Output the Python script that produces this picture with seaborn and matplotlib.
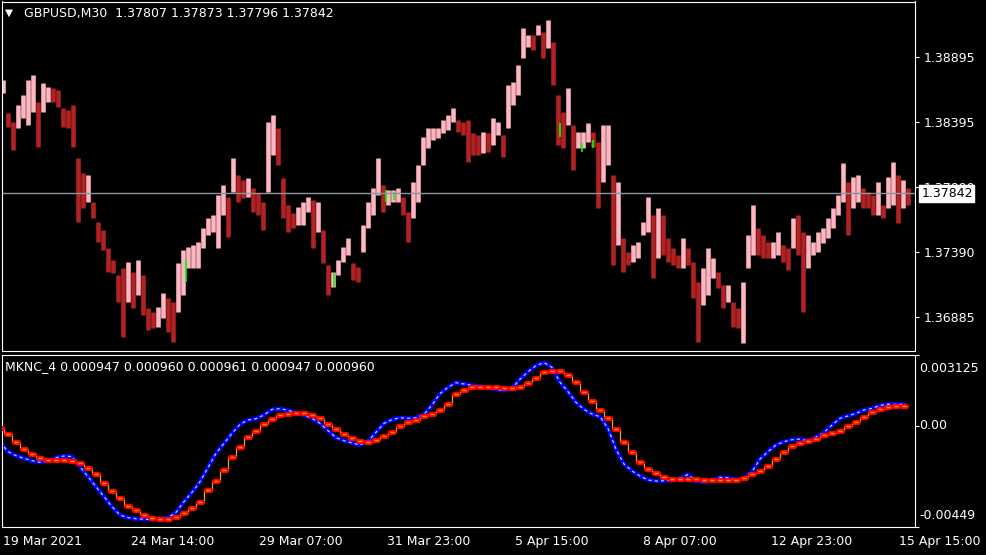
import numpy as np
import pandas as pd
import matplotlib
matplotlib.use("Agg")
import matplotlib.pyplot as plt
import seaborn as sns

# GBPUSD M30 bars, high/low envelope read every 5 bars
bar_step = 5
bar_high = [
    1.38716, 1.38459, 1.38394, 1.38523, 1.38600, 1.38716, 1.38754, 1.38548, 1.38690, 1.38664,
    1.38652, 1.38639, 1.38498, 1.38484, 1.38523, 1.38112, 1.37996, 1.37983, 1.37777, 1.37623,
    1.37559, 1.37418, 1.37328, 1.37212, 1.37264, 1.37315, 1.37238, 1.37328, 1.37212, 1.36956,
    1.36929, 1.36968, 1.37071, 1.37033, 1.37006, 1.37303, 1.37405, 1.37430, 1.37444, 1.37469,
    1.37572, 1.37649, 1.37675, 1.37829, 1.37906, 1.37816, 1.38112, 1.37983, 1.37945, 1.37958,
    1.37881, 1.37842, 1.37777, 1.38394, 1.38446, 1.38343, 1.37958, 1.37752, 1.37688, 1.37739,
    1.37777, 1.37816, 1.37791, 1.37777, 1.37559, 1.37289, 1.37238, 1.37328, 1.37430, 1.37495,
    1.37303, 1.37276, 1.37598, 1.37777, 1.37881, 1.38112, 1.37906, 1.37868, 1.37868, 1.37881,
    1.37816, 1.37700, 1.37932, 1.38060, 1.38279, 1.38343, 1.38343, 1.38343, 1.38407, 1.38446,
    1.38498, 1.38407, 1.38394, 1.38407, 1.38305, 1.38292, 1.38317, 1.38305, 1.38420, 1.38394,
    1.38292, 1.38677, 1.38703, 1.38831, 1.39114, 1.39063, 1.39063, 1.39140, 1.39088, 1.39178,
    1.39011, 1.38600, 1.38471, 1.38652, 1.38369, 1.38317, 1.38317, 1.38382, 1.38317, 1.38240,
    1.38369, 1.38369, 1.37983, 1.37932, 1.37495, 1.37392, 1.37444, 1.37469, 1.37623, 1.37816,
    1.37675, 1.37727, 1.37675, 1.37495, 1.37418, 1.37366, 1.37495, 1.37418, 1.37315, 1.37161,
    1.37264, 1.37418, 1.37341, 1.37238, 1.37135, 1.37135, 1.37006, 1.36956, 1.37161, 1.37521,
    1.37752, 1.37572, 1.37521, 1.37469, 1.37469, 1.37546, 1.37444, 1.37418, 1.37649, 1.37675,
    1.37546, 1.37521, 1.37469, 1.37546, 1.37572, 1.37649, 1.37727, 1.37829, 1.38074, 1.37932,
    1.37970, 1.37983, 1.37881, 1.37855, 1.37829, 1.37932, 1.37752, 1.37970, 1.38086, 1.37983,
    1.37945, 1.37881,
]
bar_low = [
    1.38613, 1.38356, 1.38176, 1.38343, 1.38420, 1.38369, 1.38471, 1.38202, 1.38471, 1.38548,
    1.38548, 1.38510, 1.38356, 1.38343, 1.38202, 1.37623, 1.37727, 1.37777, 1.37649, 1.37469,
    1.37405, 1.37238, 1.37225, 1.37006, 1.36737, 1.37006, 1.36956, 1.37058, 1.36904, 1.36788,
    1.36801, 1.36814, 1.36878, 1.36775, 1.36698, 1.36929, 1.37058, 1.37264, 1.37264, 1.37264,
    1.37418, 1.37521, 1.37546, 1.37418, 1.37675, 1.37508, 1.37855, 1.37777, 1.37804, 1.37816,
    1.37700, 1.37675, 1.37559, 1.37855, 1.38137, 1.38060, 1.37649, 1.37546, 1.37572, 1.37598,
    1.37598, 1.37700, 1.37418, 1.37546, 1.37303, 1.37058, 1.37122, 1.37212, 1.37315, 1.37366,
    1.37174, 1.37161, 1.37392, 1.37572, 1.37675, 1.37829, 1.37700, 1.37752, 1.37777, 1.37777,
    1.37675, 1.37469, 1.37649, 1.37777, 1.38060, 1.38189, 1.38253, 1.38266, 1.38305, 1.38330,
    1.38394, 1.38317, 1.38292, 1.38086, 1.38137, 1.38137, 1.38151, 1.38163, 1.38215, 1.38292,
    1.38124, 1.38343, 1.38523, 1.38600, 1.38883, 1.38972, 1.38947, 1.39063, 1.38883, 1.38960,
    1.38677, 1.38215, 1.38189, 1.38369, 1.38022, 1.38189, 1.38189, 1.38240, 1.38202, 1.37727,
    1.37932, 1.38060, 1.37289, 1.37444, 1.37238, 1.37289, 1.37315, 1.37341, 1.37521, 1.37546,
    1.37187, 1.37341, 1.37366, 1.37315, 1.37289, 1.37264, 1.37264, 1.37289, 1.37033, 1.36698,
    1.36981, 1.37058, 1.37187, 1.37110, 1.36956, 1.37006, 1.36814, 1.36801, 1.36686, 1.37264,
    1.37366, 1.37366, 1.37341, 1.37341, 1.37341, 1.37366, 1.37315, 1.37251, 1.37418, 1.37366,
    1.36929, 1.37264, 1.37366, 1.37392, 1.37457, 1.37495, 1.37572, 1.37675, 1.37777, 1.37521,
    1.37727, 1.37777, 1.37727, 1.37727, 1.37675, 1.37675, 1.37649, 1.37727, 1.37752, 1.37611,
    1.37727, 1.37752,
]

# the few bars painted green
green_bar = [183, 331, 383, 391, 557, 579, 590]
green_high = [1.37328, 1.37225, 1.37868, 1.37855, 1.38382, 1.38228, 1.38253]
green_low = [1.37161, 1.37122, 1.37777, 1.37791, 1.38279, 1.38163, 1.38189]

last_ohlc = [1.37807, 1.37873, 1.37796, 1.37842]
price_ticks = [1.38895, 1.38395, 1.37890, 1.37390, 1.36885]

# MKNC_4 indicator, one value every 8 bars
ind_step = 8
mknc_fast = [
    -0.000742, -0.001155, -0.001333, -0.001451, -0.001554, -0.001628, -0.001569, -0.001421, -0.001347, -0.001377,
    -0.001820, -0.002262, -0.002705, -0.003148, -0.003591, -0.003960, -0.004078, -0.004122, -0.004152, -0.004152,
    -0.004122, -0.004078, -0.003842, -0.003369, -0.002956, -0.002484, -0.001864, -0.001229, -0.000786, -0.000344,
    0.000055, 0.000247, 0.000306, 0.000468, 0.000719, 0.000749, 0.000675, 0.000572, 0.000453, 0.000321,
    0.000099, -0.000226, -0.000535, -0.000668, -0.000772, -0.000860, -0.000683, -0.000299, 0.000099, 0.000262,
    0.000350, 0.000321, 0.000350, 0.000498, 0.000911, 0.001413, 0.001693, 0.001900, 0.001841, 0.001782,
    0.001738, 0.001664, 0.001605, 0.001546, 0.001649, 0.002048, 0.002387, 0.002653, 0.002786, 0.002579,
    0.001915, 0.001501, 0.001029, 0.000719, 0.000512, 0.000394, -0.000122, -0.001052, -0.001702, -0.002011,
    -0.002233, -0.002410, -0.002454, -0.002440, -0.002410, -0.002336, -0.002159, -0.002454, -0.002513, -0.002425,
    -0.002292, -0.002307, -0.002395, -0.002336, -0.002041, -0.001481, -0.001155, -0.000860, -0.000713, -0.000624,
    -0.000595, -0.000683, -0.000506, -0.000299, 0.000025, 0.000321, 0.000424, 0.000542, 0.000690, 0.000763,
    0.000896, 0.000941, 0.000941, 0.000941,
]
mknc_slow = [
    -0.000093, -0.000388, -0.000742, -0.001052, -0.001244, -0.001421, -0.001510, -0.001525, -0.001525, -0.001554,
    -0.001643, -0.001864, -0.002159, -0.002528, -0.002882, -0.003222, -0.003547, -0.003738, -0.003960, -0.004107,
    -0.004152, -0.004122, -0.004048, -0.003886, -0.003665, -0.003399, -0.002853, -0.002454, -0.001967, -0.001377,
    -0.000934, -0.000506, -0.000226, 0.000055, 0.000276, 0.000453, 0.000527, 0.000557, 0.000557, 0.000468,
    0.000321, 0.000070, -0.000152, -0.000358, -0.000535, -0.000698, -0.000727, -0.000654, -0.000462, -0.000270,
    -0.000034, 0.000173, 0.000247, 0.000409, 0.000498, 0.000675, 0.000941, 0.001383, 0.001575, 0.001708,
    0.001723, 0.001723, 0.001693, 0.001649, 0.001649, 0.001723, 0.001885, 0.002092, 0.002357, 0.002417,
    0.002402, 0.002239, 0.001944, 0.001472, 0.001073, 0.000690, 0.000321, -0.000152, -0.000713, -0.001155,
    -0.001598, -0.001923, -0.002115, -0.002292, -0.002351, -0.002366, -0.002366, -0.002380, -0.002410, -0.002425,
    -0.002425, -0.002425, -0.002395, -0.002307, -0.002159, -0.002011, -0.001790, -0.001481, -0.001185, -0.000919,
    -0.000786, -0.000683, -0.000595, -0.000432, -0.000344, -0.000240, -0.000019, 0.000173, 0.000394, 0.000586,
    0.000749, 0.000808, 0.000852, 0.000881,
]
mknc_header = [0.000947, 0.000960, 0.000961, 0.000947, 0.000960]
ind_ticks = [0.003125, 0.0, -0.00449]

time_ticks = [0, 128, 256, 384, 512, 640, 768, 896]
time_labels = ['19 Mar 2021', '24 Mar 14:00', '29 Mar 07:00', '31 Mar 23:00',
               '5 Apr 15:00', '8 Apr 07:00', '12 Apr 23:00', '15 Apr 15:00']

sns.set_theme(style="dark", rc={
    "figure.facecolor": "black", "axes.facecolor": "black",
    "axes.edgecolor": "white", "axes.linewidth": 0.8,
    "text.color": "white", "xtick.color": "white", "ytick.color": "white",
    "axes.grid": False,
})
plt.rcParams["font.family"] = ["DejaVu Sans"]
plt.rcParams["font.size"] = 9

W, H = 987, 555
fig = plt.figure(figsize=(W / 100, H / 100), dpi=100)
ax1 = fig.add_axes([2 / W, 1 - 351 / H, 913 / W, 349.5 / H])
ax2 = fig.add_axes([2 / W, 1 - 527 / H, 913 / W, 172 / H])

# ---- price panel
bars = pd.DataFrame({'bar': np.arange(len(bar_high)) * bar_step,
                     'high': bar_high, 'low': bar_low})
mid = (bars['high'] + bars['low']) / 2
up = mid.diff().fillna(0) >= 0
bar_colors = np.where(up, '#FFB6C1', '#B22222')
ax1.vlines(bars['bar'], bars['low'], bars['high'], colors=bar_colors, lw=3.3)
ax1.vlines(green_bar, green_low, green_high, colors='#00FF00', lw=1.2)
ax1.axhline(last_ohlc[3], color='#8C96A0', lw=1)

ax1.set_xlim(-1, 912)
ax1.set_ylim(1.36626, 1.39321)
ax1.set_xticks([])
ax1.yaxis.tick_right()
ax1.set_yticks(price_ticks)
ax1.set_yticklabels([f'{v:.5f}' for v in price_ticks])
ax1.tick_params(axis='y', colors='white', length=3, width=0.8, pad=3, labelsize=9)
ax1.set_xlabel('')
ax1.set_ylabel('')
for s in ax1.spines.values():
    s.set_color('white')

# last price marker on the scale (covers the tick label behind it, as in MT4)
ax1.annotate(f'{last_ohlc[3]:.5f}', xy=(1, last_ohlc[3]),
             xycoords=('axes fraction', 'data'), xytext=(4.5, 0),
             textcoords='offset points', ha='left', va='center',
             color='black', fontsize=9, annotation_clip=False, zorder=10,
             bbox=dict(boxstyle='square,pad=0.14', fc='white', ec='white'))

fig.text(4.5 / W, 1 - 12.5 / H, '\u25BC', fontsize=7.5, color='white',
         ha='left', va='center')
fig.text(24 / W, 1 - 13.5 / H,
         'GBPUSD,M30  ' + ' '.join(f'{v:.5f}' for v in last_ohlc),
         fontsize=9, color='white', ha='left', va='center')

# ---- indicator panel
ind = pd.DataFrame({'bar': np.arange(len(mknc_fast)) * ind_step - 3,
                    'fast': mknc_fast, 'slow': mknc_slow})

sns.lineplot(data=ind, x='bar', y='fast', ax=ax2, color='#0000FF', lw=3.0,
             estimator=None, sort=False)
sns.lineplot(data=ind, x='bar', y='fast', ax=ax2, color='#A8D8FF', lw=0.9,
             estimator=None, sort=False, linestyle=(0, (2.5, 2.5)))

sns.lineplot(data=ind, x='bar', y='slow', ax=ax2, color='#FFA500', lw=0.9,
             estimator=None, sort=False, drawstyle='steps-mid')
ax2.hlines(ind['slow'], ind['bar'] - 1.8, ind['bar'] + 1.8, colors='#FF0000',
           lw=3.8, capstyle='round', zorder=4)
sns.scatterplot(data=ind, x='bar', y='slow', ax=ax2, marker='_', s=6,
                color='#FFA500', linewidth=1.0, zorder=5)

ax2.set_xlim(-1, 912)
ax2.set_ylim(ind_ticks[2], ind_ticks[0])
ax2.set_xlabel('')
ax2.set_ylabel('')
ax2.yaxis.tick_right()
ax2.set_yticks(ind_ticks)
ax2.set_yticklabels([])
ax2.tick_params(axis='y', colors='white', length=3, width=0.8)
ax2.set_xticks(time_ticks)
ax2.set_xticklabels(time_labels)
ax2.tick_params(axis='x', colors='white', length=4, width=0.8, pad=2, labelsize=9)
for lab in ax2.get_xticklabels():
    lab.set_ha('left')
for s in ax2.spines.values():
    s.set_color('white')

ind_labels = ['0.003125', '0.00', '-0.00449']
ind_offsets = [-10, 0, 8]
for v, t, dy in zip(ind_ticks, ind_labels, ind_offsets):
    ax2.annotate(t, xy=(1, v), xycoords=('axes fraction', 'data'),
                 xytext=(3, dy), textcoords='offset points', ha='left',
                 va='center', color='white', fontsize=9, annotation_clip=False)

ax2.text(3 / 913, 1 - 12 / 172,
         'MKNC_4 ' + ' '.join(f'{v:.6f}' for v in mknc_header),
         transform=ax2.transAxes, fontsize=9, color='white', ha='left', va='center')

fig.savefig('out.png', dpi=100, facecolor='black')
